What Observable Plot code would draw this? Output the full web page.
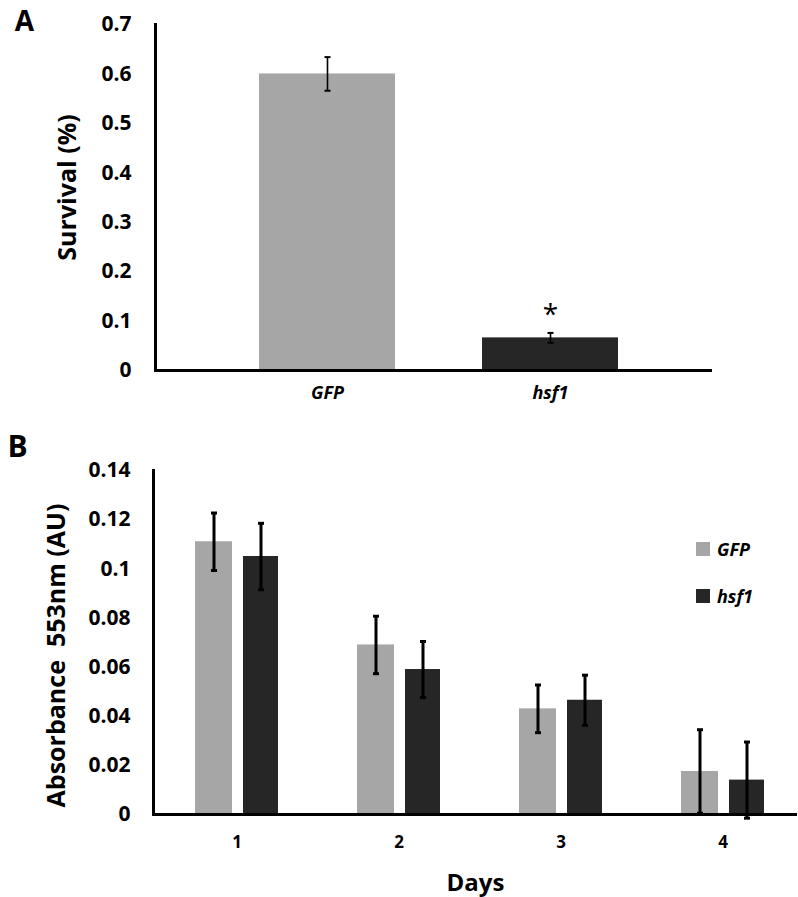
<!DOCTYPE html>
<html>
<head>
<meta charset="utf-8">
<script src="https://cdn.jsdelivr.net/npm/d3@7"></script>
<script src="https://cdn.jsdelivr.net/npm/@observablehq/plot@0.6"></script>
<style>
  body { margin: 0; background: #fff; }
  #wrap { position: relative; width: 798px; height: 897px; font-family: "Open Sans", sans-serif; }
  #wrap svg { display: block; }
  .legend { position: absolute; left: 696px; top: 542px; }
  .legend .row { display: flex; align-items: center; height: 14px; margin-bottom: 33px; }
  .legend .sw { width: 14px; height: 14px; display: inline-block; }
  .legend .lb { margin-left: 7px; font-size: 18px; font-weight: bold; font-style: italic; line-height: 14px; }
</style>
</head>
<body>
<div id="wrap"></div>
<script>
// ---------- Panel A data ----------
const groupsA = ["GFP", "hsf1"];
const survival = [0.60, 0.066];
const survivalErr = [0.034, 0.010];
const significance = ["", "*"];
const yTicksA = [0, 0.1, 0.2, 0.3, 0.4, 0.5, 0.6, 0.7];
const yTickLabelsA = ["0", "0.1", "0.2", "0.3", "0.4", "0.5", "0.6", "0.7"];

// ---------- Panel B data ----------
const days = ["1", "2", "3", "4"];
const series = ["GFP", "hsf1"];
const absGFP = [0.111, 0.069, 0.043, 0.0175];
const errGFP = [0.0117, 0.0117, 0.0097, 0.017];
const absHsf1 = [0.105, 0.059, 0.0465, 0.014];
const errHsf1 = [0.0135, 0.0114, 0.0102, 0.0155];
const yTicksB = [0, 0.02, 0.04, 0.06, 0.08, 0.1, 0.12, 0.14];
const yTickLabelsB = ["0", "0.02", "0.04", "0.06", "0.08", "0.1", "0.12", "0.14"];

const colors = ["#a6a6a6", "#262626"];

// horizontal cap symbol for error bars
const capSymbol = {
  draw(ctx, size) {
    const r = Math.sqrt(size / Math.PI);
    ctx.moveTo(-r, 0);
    ctx.lineTo(r, 0);
  }
};

const font = '"Open Sans", sans-serif';
const wrap = document.getElementById("wrap");

// ---------- Panel A ----------
const tableA = groupsA.map((g, i) => ({group: g, value: survival[i], err: survivalErr[i], sig: significance[i]}));
const tickTableA = yTicksA.map((v, i) => ({v, label: yTickLabelsA[i]}));

const plotA = Plot.plot({
  width: 798,
  height: 430,
  marginLeft: 155,
  marginRight: 86,
  marginTop: 24,
  marginBottom: 60,
  style: {fontFamily: font, fontWeight: "bold", fontSize: "21px", color: "black", background: "white", overflow: "visible"},
  x: {type: "band", domain: groupsA, paddingInner: 0.388, paddingOuter: 0, insetLeft: 103, insetRight: 93, axis: null},
  y: {domain: [0, 0.7], axis: null},
  color: {domain: groupsA, range: colors},
  marks: [
    Plot.barY(tableA, {x: "group", y: "value", fill: "group"}),
    Plot.ruleX(tableA, {x: "group", y1: d => d.value - d.err, y2: d => d.value + d.err, stroke: "black", strokeWidth: 1.6}),
    Plot.dot(tableA, {x: "group", y: d => d.value + d.err, symbol: capSymbol, r: 3, fill: "none", stroke: "black", strokeWidth: 2}),
    Plot.dot(tableA, {x: "group", y: d => d.value - d.err, symbol: capSymbol, r: 3, fill: "none", stroke: "black", strokeWidth: 2}),
    Plot.ruleY([0], {stroke: "black", strokeWidth: 3}),
    Plot.frame({anchor: "left", stroke: "black", strokeWidth: 3}),
    Plot.text(tickTableA, {y: "v", text: "label", frameAnchor: "left", textAnchor: "end", lineAnchor: "middle", dx: -24, fontSize: 21, fontWeight: "bold"}),
    Plot.text(tableA, {x: "group", text: "group", frameAnchor: "bottom", textAnchor: "middle", lineAnchor: "middle", dy: 23, fontSize: 18, fontWeight: "bold", fontStyle: "italic"}),
    Plot.text(tableA, {x: "group", y: d => d.value + d.err, text: "sig", textAnchor: "middle", lineAnchor: "middle", dy: -18, fontSize: 28, fontWeight: "normal"}),
    Plot.text(["Survival (%)"], {text: d => d, frameAnchor: "left", textAnchor: "middle", lineAnchor: "middle", rotate: -90, dx: -88, dy: -10, fontSize: 25, fontWeight: "bold"}),
    Plot.text(["A"], {text: d => d, frameAnchor: "top-left", textAnchor: "middle", lineAnchor: "middle", dx: -131, dy: -2, fontSize: 28, fontWeight: "bold"})
  ]
});
wrap.appendChild(plotA);

// ---------- Panel B ----------
const tableB = days.flatMap((d, i) => [
  {day: d, series: series[0], value: absGFP[i], err: errGFP[i]},
  {day: d, series: series[1], value: absHsf1[i], err: errHsf1[i]}
]);
const gfpB = tableB.filter(d => d.series === series[0]);
const hsfB = tableB.filter(d => d.series === series[1]);
const tickTableB = yTicksB.map((v, i) => ({v, label: yTickLabelsB[i]}));

function errMarks(data, dx) {
  return [
    Plot.ruleX(data, {x: "day", y1: d => d.value - d.err, y2: d => d.value + d.err, dx, stroke: "black", strokeWidth: 3}),
    Plot.dot(data, {x: "day", y: d => d.value + d.err, dx, symbol: capSymbol, r: 3, fill: "none", stroke: "black", strokeWidth: 3}),
    Plot.dot(data, {x: "day", y: d => d.value - d.err, dx, symbol: capSymbol, r: 3, fill: "none", stroke: "black", strokeWidth: 3})
  ];
}

const plotB = Plot.plot({
  width: 798,
  height: 467,
  marginLeft: 153,
  marginRight: 1,
  marginTop: 40,
  marginBottom: 83,
  style: {fontFamily: font, fontWeight: "bold", fontSize: "21px", color: "black", background: "white", overflow: "visible"},
  x: {type: "band", domain: days, paddingInner: 0.49, paddingOuter: 0, insetLeft: 40, insetRight: 32, axis: null},
  y: {domain: [0, 0.14], axis: null},
  color: {domain: series, range: colors},
  marks: [
    Plot.barY(gfpB, {x: "day", y: "value", fill: "series", insetRight: 46}),
    Plot.barY(hsfB, {x: "day", y: "value", fill: "series", insetLeft: 48}),
    ...errMarks(gfpB, -23),
    ...errMarks(hsfB, 24),
    Plot.ruleY([0], {stroke: "black", strokeWidth: 3}),
    Plot.frame({anchor: "left", stroke: "black", strokeWidth: 3}),
    Plot.text(tickTableB, {y: "v", text: "label", frameAnchor: "left", textAnchor: "end", lineAnchor: "middle", dx: -23, fontSize: 21, fontWeight: "bold"}),
    Plot.text(days, {x: d => d, text: d => d, frameAnchor: "bottom", textAnchor: "middle", lineAnchor: "middle", dy: 28, fontSize: 17, fontWeight: "bold"}),
    Plot.text(["Days"], {text: d => d, frameAnchor: "bottom", textAnchor: "middle", lineAnchor: "middle", dy: 69, fontSize: 24, fontWeight: "bold"}),
    Plot.text(["Absorbance\u00a0 553nm (AU)"], {text: d => d, frameAnchor: "left", textAnchor: "middle", lineAnchor: "middle", rotate: -90, dx: -97, dy: 13, fontSize: 25, fontWeight: "bold"}),
    Plot.text(["B"], {text: d => d, frameAnchor: "top-left", textAnchor: "middle", lineAnchor: "middle", dx: -136, dy: -23, fontSize: 30, fontWeight: "bold"})
  ]
});
wrap.appendChild(plotB);

// ---------- Legend (panel B) ----------
const legend = document.createElement("div");
legend.className = "legend";
series.forEach((s, i) => {
  const row = document.createElement("div");
  row.className = "row";
  const sw = document.createElement("span");
  sw.className = "sw";
  sw.style.background = colors[i];
  const lb = document.createElement("span");
  lb.className = "lb";
  lb.textContent = s;
  row.appendChild(sw);
  row.appendChild(lb);
  legend.appendChild(row);
});
wrap.appendChild(legend);
</script>
</body>
</html>
